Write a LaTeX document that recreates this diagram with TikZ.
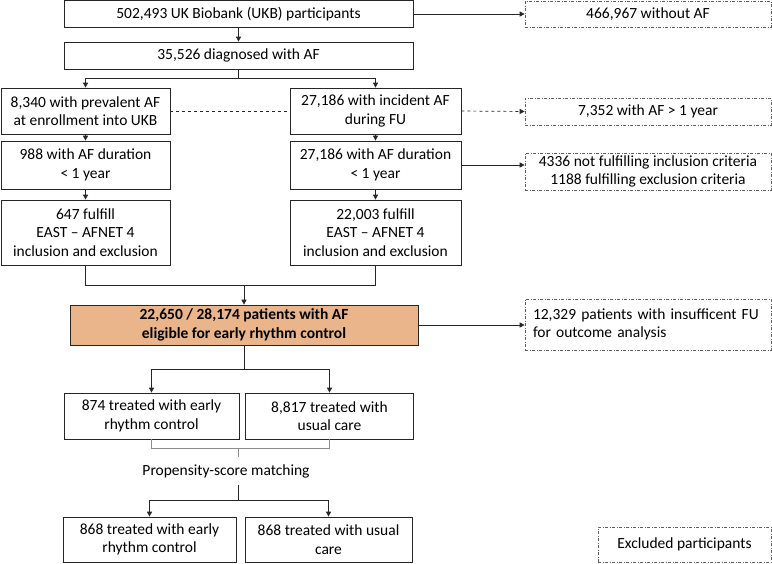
\documentclass[tikz,border=0pt]{standalone}
\usepackage{fontspec}
\setmainfont{Carlito}
\usetikzlibrary{arrows.meta,calc}
\definecolor{orangebox}{RGB}{235,181,140}
\definecolor{exgray}{RGB}{95,95,95}
\begin{document}
\begin{tikzpicture}[x=1pt,y=-1pt,
  box/.style={draw=black!85, line width=0.7pt, align=center, inner sep=2pt,
    font=\fontsize{15.5}{18.5}\selectfont},
  exbox/.style={draw=exgray, line width=0.7pt,
    dash pattern=on 3pt off 1.5pt on 1pt off 1.5pt,
    align=center, inner sep=2pt, font=\fontsize{15.5}{18.5}\selectfont},
  arr/.style={-{Triangle[length=5pt,width=5pt]}, line width=0.7pt, draw=black!85},
  ln/.style={line width=0.7pt, draw=black!85},
  gln/.style={line width=0.7pt, draw=black!45},
]
\useasboundingbox (0,0) rectangle (772,563);

% main column
\node[box, minimum width=349pt, minimum height=27pt] (top) at (238.5,14) {502,493 UK Biobank (UKB) participants};
\node[box, minimum width=349pt, minimum height=27pt] (af) at (238.5,55.5) {35,526 diagnosed with AF};

\node[box, minimum width=169pt, minimum height=46pt] (prev) at (85.5,111) {8,340 with prevalent AF\\at enrollment into UKB};
\node[box, minimum width=171pt, minimum height=46pt] (inc) at (375.5,111) {27,186 with incident AF\\during FU};

\node[box, minimum width=169pt, minimum height=48pt] (dur1) at (85.5,165) {988 with AF duration\\< 1 year};
\node[box, minimum width=171pt, minimum height=48pt] (dur2) at (375.5,165) {27,186 with AF duration\\< 1 year};

\node[box, minimum width=169pt, minimum height=65pt] (ful1) at (85.5,232.5) {647 fulfill\\EAST -- AFNET 4\\inclusion and exclusion};
\node[box, minimum width=171pt, minimum height=65pt] (ful2) at (375.5,232.5) {22,003 fulfill\\EAST -- AFNET 4\\inclusion and exclusion};

\node[box, fill=orangebox, minimum width=348pt, minimum height=40pt, font=\fontsize{15.5}{18.5}\selectfont\bfseries] (elig) at (244,325) {22,650 / 28,174 patients with AF\\eligible for early rhythm control};

\node[box, minimum width=175pt, minimum height=46pt] (rc) at (151.5,416) {874 treated with early\\rhythm control};
\node[box, minimum width=168pt, minimum height=46pt] (uc) at (329.5,416) {8,817 treated with\\usual care};

\node[minimum height=28pt, inner sep=0pt, font=\fontsize{15.5}{18.5}\selectfont] (psm) at (226,471) {Propensity-score matching};

\node[box, minimum width=173pt, minimum height=45pt] (rc2) at (149.5,539.5) {868 treated with early\\rhythm control};
\node[box, minimum width=167pt, minimum height=45pt] (uc2) at (328.5,539.5) {868 treated with usual\\care};

% excluded boxes
\node[exbox, minimum width=246pt, minimum height=26pt] (ex1) at (648,14) {466,967 without AF};
\node[exbox, minimum width=246pt, minimum height=27pt] (ex2) at (648,111.5) {7,352 with AF > 1 year};
\node[exbox, minimum width=246pt, minimum height=37pt] (ex3) at (648,171.5) {4336 not fulfilling inclusion criteria\\1188 fulfilling exclusion criteria};
\node[exbox, align=left, text width=230pt, inner xsep=8pt, minimum height=51pt] (ex4) at (648,324.5) {12,329 patients with insufficent FU\\for outcome analysis};
\node[exbox, minimum width=173pt, minimum height=35pt] (leg) at (684.5,544.5) {Excluded participants};

% connectors
\draw[arr] (top) -- (af);
\draw[arr] (top.east) -- (ex1.west);

\draw[ln] (af.south) -- ++(0,9) coordinate (b1);
\draw[arr] (b1) -| (prev.north);
\draw[arr] (b1) -| (inc.north);

\draw[ln, dashed] (prev.east) -- (inc.west);
\draw[arr, dashed] (inc.east) -- (ex2.west);

\draw[arr] (prev) -- (dur1);
\draw[arr] (inc) -- (dur2);
\draw[arr] (dur2.east) -- (dur2.east -| ex3.west);

\draw[arr] (dur1) -- (ful1);
\draw[arr] (dur2) -- (ful2);

\coordinate (m) at (244,285);
\draw[ln] (ful1.south) |- (ful2.south |- m) -- (ful2.south);
\draw[arr] (elig.north |- m) -- (elig.north);
\draw[arr] (elig.east) -- (elig.east -| ex4.west);

\draw[ln] (elig.south) -- ++(0,24) coordinate (s2);
\draw[arr] (s2) -| (rc.north);
\draw[arr] (s2) -| (uc.north);

\draw[gln] (rc.south) -- ++(0,9) coordinate (g1) -| (uc.south);
\coordinate (bk) at (238,448);
\draw[gln] (bk) -- (bk |- psm.north);

\draw[ln] (bk |- psm.south) -- ++(0,15) coordinate (s3);
\draw[arr] (s3) -| (rc2.north);
\draw[arr] (s3) -| (uc2.north);
\end{tikzpicture}
\end{document}
